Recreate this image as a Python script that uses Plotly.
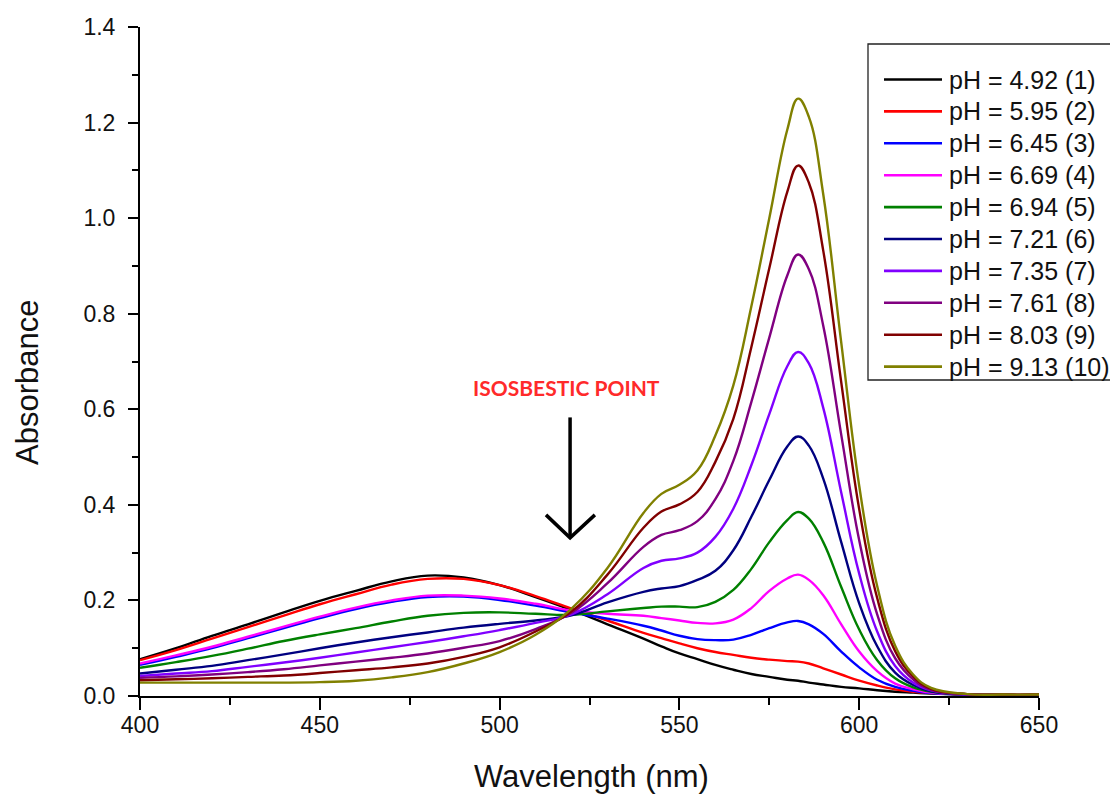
import plotly.graph_objects as go

# Wavelength grid (nm)
wavelength = [400, 410, 420, 430, 440, 450, 460, 470, 480, 490, 500, 510,
              520, 530, 540, 545, 550, 555, 560, 565, 570, 575, 580,
              583, 586, 590, 595, 600, 605, 610, 615, 620, 630, 640, 650]

# pH of each recorded spectrum
ph_values = ["4.92", "5.95", "6.45", "6.69", "6.94", "7.21", "7.35", "7.61", "8.03", "9.13"]

# Absorbance spectra, one list per pH
abs_ph_492 = [0.077, 0.100, 0.126, 0.150, 0.175, 0.199, 0.220, 0.240, 0.252, 0.248, 0.232, 0.207,
              0.180, 0.150, 0.120, 0.104, 0.089, 0.077, 0.065, 0.055, 0.046, 0.040, 0.034,
              0.032, 0.028, 0.024, 0.019, 0.016, 0.012, 0.009, 0.007, 0.005, 0.003, 0.002, 0.002]
abs_ph_595 = [0.075, 0.096, 0.120, 0.144, 0.168, 0.192, 0.213, 0.233, 0.245, 0.245, 0.232, 0.209,
              0.183, 0.158, 0.132, 0.121, 0.110, 0.100, 0.092, 0.086, 0.080, 0.076, 0.073,
              0.072, 0.068, 0.058, 0.045, 0.032, 0.022, 0.014, 0.009, 0.006, 0.003, 0.002, 0.002]
abs_ph_645 = [0.065, 0.082, 0.100, 0.121, 0.142, 0.163, 0.182, 0.197, 0.207, 0.208, 0.201, 0.189,
              0.175, 0.162, 0.147, 0.137, 0.126, 0.119, 0.117, 0.118, 0.128, 0.142, 0.154,
              0.157, 0.150, 0.130, 0.093, 0.060, 0.034, 0.019, 0.011, 0.006, 0.003, 0.002, 0.002]
abs_ph_669 = [0.068, 0.085, 0.103, 0.124, 0.145, 0.166, 0.185, 0.200, 0.210, 0.210, 0.204, 0.193,
              0.179, 0.172, 0.168, 0.163, 0.158, 0.153, 0.152, 0.160, 0.184, 0.220, 0.246,
              0.254, 0.243, 0.211, 0.150, 0.093, 0.052, 0.026, 0.014, 0.007, 0.003, 0.002, 0.002]
abs_ph_694 = [0.059, 0.071, 0.084, 0.099, 0.115, 0.129, 0.142, 0.156, 0.168, 0.174, 0.175, 0.172,
              0.170, 0.177, 0.184, 0.187, 0.187, 0.186, 0.197, 0.222, 0.266, 0.322, 0.368,
              0.385, 0.371, 0.322, 0.228, 0.139, 0.075, 0.037, 0.018, 0.009, 0.003, 0.002, 0.002]
abs_ph_721 = [0.047, 0.055, 0.063, 0.075, 0.087, 0.100, 0.112, 0.123, 0.133, 0.143, 0.151, 0.158,
              0.169, 0.196, 0.218, 0.225, 0.230, 0.243, 0.262, 0.305, 0.375, 0.452, 0.522,
              0.543, 0.524, 0.455, 0.322, 0.194, 0.104, 0.049, 0.023, 0.010, 0.003, 0.002, 0.002]
abs_ph_735 = [0.042, 0.047, 0.052, 0.061, 0.070, 0.080, 0.091, 0.102, 0.113, 0.125, 0.138, 0.153,
              0.171, 0.213, 0.268, 0.283, 0.288, 0.300, 0.333, 0.392, 0.483, 0.590, 0.690,
              0.720, 0.696, 0.603, 0.426, 0.256, 0.135, 0.063, 0.028, 0.012, 0.003, 0.002, 0.002]
abs_ph_761 = [0.038, 0.041, 0.045, 0.050, 0.056, 0.064, 0.072, 0.080, 0.089, 0.101, 0.115, 0.140,
              0.174, 0.236, 0.312, 0.337, 0.347, 0.366, 0.412, 0.492, 0.615, 0.750, 0.880,
              0.924, 0.893, 0.775, 0.547, 0.326, 0.171, 0.079, 0.035, 0.013, 0.004, 0.003, 0.003]
abs_ph_803 = [0.033, 0.035, 0.037, 0.040, 0.043, 0.048, 0.054, 0.060, 0.068, 0.082, 0.102, 0.135,
              0.177, 0.254, 0.352, 0.386, 0.401, 0.427, 0.490, 0.580, 0.730, 0.895, 1.055,
              1.110, 1.074, 0.932, 0.657, 0.391, 0.205, 0.094, 0.041, 0.015, 0.004, 0.003, 0.003]
abs_ph_913 = [0.028, 0.028, 0.028, 0.028, 0.028, 0.029, 0.032, 0.039, 0.050, 0.068, 0.092, 0.128,
              0.183, 0.268, 0.383, 0.423, 0.442, 0.472, 0.545, 0.650, 0.815, 1.000, 1.185,
              1.250, 1.212, 1.050, 0.740, 0.440, 0.230, 0.105, 0.045, 0.017, 0.004, 0.003, 0.003]

spectra = [abs_ph_492, abs_ph_595, abs_ph_645, abs_ph_669, abs_ph_694,
           abs_ph_721, abs_ph_735, abs_ph_761, abs_ph_803, abs_ph_913]

colors = ["#000000", "#FF0000", "#0000FF", "#FF00FF", "#008000",
          "#000080", "#8000FF", "#800080", "#800000", "#808000"]

labels = [f"pH = {v} ({i + 1})" for i, v in enumerate(ph_values)]

FONT = "Liberation Sans, Arial, sans-serif"

fig = go.Figure()
for y, c, name in zip(spectra, colors, labels):
    fig.add_trace(go.Scatter(
        x=wavelength, y=y, mode="lines", name=name,
        line=dict(color=c, width=2.4, shape="spline", smoothing=1.2),
        showlegend=False,
    ))

# Frame geometry in pixels, used to place the hand-drawn legend and titles
W, H = 1110, 794
L, R, T, B = 140, 71, 27, 98
pw, ph = W - L - R, H - T - B


def px_x(p):
    return (p - L) / pw


def px_y(p):
    return (H - B - p) / ph


shapes = []
annotations = []

# Legend box
shapes.append(dict(type="rect", xref="paper", yref="paper",
                   x0=px_x(868), x1=px_x(1116), y0=px_y(380), y1=px_y(44),
                   line=dict(color="#222222", width=1.3), fillcolor="white", layer="above"))
for i, (c, name) in enumerate(zip(colors, labels)):
    yy = px_y(79.5 + 31.9 * i)
    shapes.append(dict(type="line", xref="paper", yref="paper",
                       x0=px_x(884), x1=px_x(942), y0=yy, y1=yy,
                       line=dict(color=c, width=2.6), layer="above"))
    annotations.append(dict(xref="paper", yref="paper", x=px_x(947), y=yy,
                            text=name, showarrow=False, xanchor="left", yanchor="middle",
                            font=dict(family=FONT, size=25, color="#111111")))

# Isosbestic point marker: label and arrow
annotations.append(dict(xref="x", yref="y", x=518.7, y=0.646, text="<b>ISOSBESTIC POINT</b>",
                        showarrow=False, xanchor="center", yanchor="middle",
                        font=dict(family="Lato, Open Sans, sans-serif", size=21, color="#FF2A2A")))
shapes.append(dict(type="line", xref="x", yref="y", x0=519.6, x1=519.6, y0=0.583, y1=0.333,
                   line=dict(color="black", width=3.5)))
shapes.append(dict(type="path", xref="x", yref="y",
                   path="M 512.9 0.379 L 519.6 0.331 L 526.5 0.379",
                   line=dict(color="black", width=3.5)))

# Axis titles
annotations.append(dict(xref="paper", yref="paper", x=px_x(591), y=px_y(776),
                        text="Wavelength (nm)", showarrow=False,
                        xanchor="center", yanchor="middle",
                        font=dict(family=FONT, size=31, color="#111111")))
annotations.append(dict(xref="paper", yref="paper", x=px_x(27), y=px_y(383),
                        text="Absorbance", showarrow=False, textangle=-90,
                        xanchor="center", yanchor="middle",
                        font=dict(family=FONT, size=31, color="#111111")))

fig.update_layout(
    width=W, height=H,
    margin=dict(l=L, r=R, t=T, b=B, autoexpand=False),
    paper_bgcolor="white", plot_bgcolor="white",
    shapes=shapes, annotations=annotations,
    showlegend=False,
)

fig.update_xaxes(
    range=[400, 650], tick0=400, dtick=50,
    ticks="outside", ticklen=12, tickwidth=2, tickcolor="black",
    showline=True, linewidth=2, linecolor="black",
    showgrid=False, zeroline=False, ticklabelstandoff=-5,
    tickfont=dict(family=FONT, size=23, color="#111111"),
    minor=dict(ticks="outside", ticklen=7, tickwidth=2, tickcolor="black",
               dtick=25, tick0=400, showgrid=False),
)
fig.update_yaxes(
    range=[0, 1.4], tick0=0, dtick=0.2, tickformat=".1f",
    ticks="outside", ticklen=10, tickwidth=2, tickcolor="black",
    showline=True, linewidth=2, linecolor="black",
    showgrid=False, zeroline=False, ticklabelstandoff=8,
    tickfont=dict(family=FONT, size=23, color="#111111"),
    minor=dict(ticks="outside", ticklen=6, tickwidth=2, tickcolor="black",
               dtick=0.1, tick0=0, showgrid=False),
)

fig.write_html("out.html")
